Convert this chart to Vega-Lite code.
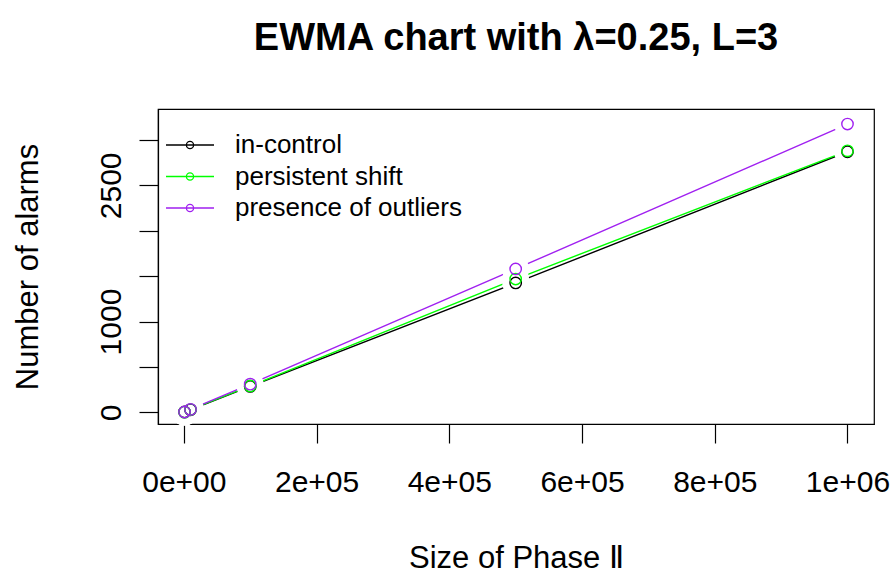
{
  "$schema": "https://vega.github.io/schema/vega-lite/v6.json",
  "width": 716,
  "height": 315,
  "autosize": "none",
  "padding": {"left": 158, "top": 109, "right": 19, "bottom": 150},
  "background": "white",
  "title": {
    "text": "EWMA chart with λ=0.25, L=3",
    "font": "Liberation Sans",
    "fontSize": 38,
    "fontWeight": "bold",
    "color": "black",
    "anchor": "middle",
    "frame": "group",
    "baseline": "alphabetic",
    "offset": 21
  },
  "config": {
    "view": {"stroke": "black", "strokeWidth": 1.2},
    "axis": {
      "grid": false,
      "domain": true,
      "domainColor": "black",
      "domainWidth": 1.2,
      "tickColor": "black",
      "tickWidth": 1.2,
      "tickSize": 19,
      "labelFont": "Liberation Sans",
      "labelFontSize": 30,
      "labelColor": "black",
      "titleFont": "Liberation Sans",
      "titleFontSize": 31,
      "titleFontWeight": "normal",
      "titleColor": "black",
      "zindex": 1
    }
  },
  "data": {
    "values": [
      {"phase2": 1000, "alarms": 3, "series": "in-control"},
      {"phase2": 10000, "alarms": 27, "series": "in-control"},
      {"phase2": 100000, "alarms": 285, "series": "in-control"},
      {"phase2": 500000, "alarms": 1425, "series": "in-control"},
      {"phase2": 1000000, "alarms": 2870, "series": "in-control"},
      {"phase2": 1000, "alarms": 2, "series": "persistent shift"},
      {"phase2": 10000, "alarms": 30, "series": "persistent shift"},
      {"phase2": 100000, "alarms": 290, "series": "persistent shift"},
      {"phase2": 500000, "alarms": 1468, "series": "persistent shift"},
      {"phase2": 1000000, "alarms": 2880, "series": "persistent shift"},
      {"phase2": 1000, "alarms": 3, "series": "presence of outliers"},
      {"phase2": 10000, "alarms": 32, "series": "presence of outliers"},
      {"phase2": 100000, "alarms": 310, "series": "presence of outliers"},
      {"phase2": 500000, "alarms": 1579, "series": "presence of outliers"},
      {"phase2": 1000000, "alarms": 3175, "series": "presence of outliers"}
    ]
  },
  "encoding": {
    "x": {
      "field": "phase2",
      "type": "quantitative",
      "scale": {"domain": [-38960, 1039960], "nice": false, "zero": false},
      "axis": {
        "title": "Size of Phase Ⅱ",
        "values": [0, 200000, 400000, 600000, 800000, 1000000],
        "labelExpr": "datum.value == 0 ? '0e+00' : datum.value == 200000 ? '2e+05' : datum.value == 400000 ? '4e+05' : datum.value == 600000 ? '6e+05' : datum.value == 800000 ? '8e+05' : '1e+06'",
        "labelBaseline": "alphabetic",
        "labelPadding": 48,
        "labelFlush": false,
        "labelOverlap": false,
        "titleX": 358,
        "titleY": 143,
        "titleAlign": "center",
        "titleBaseline": "alphabetic"
      }
    },
    "y": {
      "field": "alarms",
      "type": "quantitative",
      "scale": {"domain": [-129, 3341], "nice": false, "zero": false},
      "axis": {
        "title": "Number of alarms",
        "values": [0, 500, 1000, 1500, 2000, 2500, 3000],
        "format": "d",
        "labelExpr": "datum.value == 0 || datum.value == 1000 || datum.value == 2500 ? datum.label : ''",
        "labelAngle": -90,
        "labelAlign": "center",
        "labelBaseline": "alphabetic",
        "labelPadding": 19,
        "labelFlush": false,
        "labelOverlap": false,
        "titleAngle": -90,
        "titleX": -121,
        "titleY": 157.5,
        "titleAlign": "center",
        "titleBaseline": "alphabetic"
      }
    }
  },
  "layer": [
    {
      "mark": {"type": "line", "strokeWidth": 1.4},
      "encoding": {
        "color": {
          "field": "series",
          "type": "nominal",
          "scale": {
            "domain": ["in-control", "persistent shift", "presence of outliers"],
            "range": ["#000000", "#00FF00", "#A020F0"]
          },
          "legend": {
            "title": null,
            "orient": "none",
            "legendX": 19,
            "legendY": 23,
            "padding": 0,
            "rowPadding": 5.5,
            "symbolType": "M-2,0H2M0.3,0A0.3,0.3,0,1,1,-0.3,0A0.3,0.3,0,1,1,0.3,0",
            "symbolSize": 576,
            "symbolStrokeWidth": 1.3,
            "symbolFillColor": "transparent",
            "labelOffset": 32,
            "labelLimit": 400,
            "labelFont": "Liberation Sans",
            "labelFontSize": 26,
            "labelColor": "black"
          }
        }
      }
    },
    {
      "mark": {"type": "circle", "fill": "white", "fillOpacity": 1, "opacity": 1, "stroke": null, "size": 720}
    },
    {
      "mark": {"type": "point", "shape": "circle", "filled": false, "size": 130, "strokeWidth": 1.4, "opacity": 1},
      "encoding": {
        "color": {
          "field": "series",
          "type": "nominal",
          "scale": {
            "domain": ["in-control", "persistent shift", "presence of outliers"],
            "range": ["#000000", "#00FF00", "#A020F0"]
          },
          "legend": {
            "title": null,
            "orient": "none",
            "legendX": 19,
            "legendY": 23,
            "padding": 0,
            "rowPadding": 5.5,
            "symbolType": "M-2,0H2M0.3,0A0.3,0.3,0,1,1,-0.3,0A0.3,0.3,0,1,1,0.3,0",
            "symbolSize": 576,
            "symbolStrokeWidth": 1.3,
            "symbolFillColor": "transparent",
            "labelOffset": 32,
            "labelLimit": 400,
            "labelFont": "Liberation Sans",
            "labelFontSize": 26,
            "labelColor": "black"
          }
        }
      }
    }
  ]
}
